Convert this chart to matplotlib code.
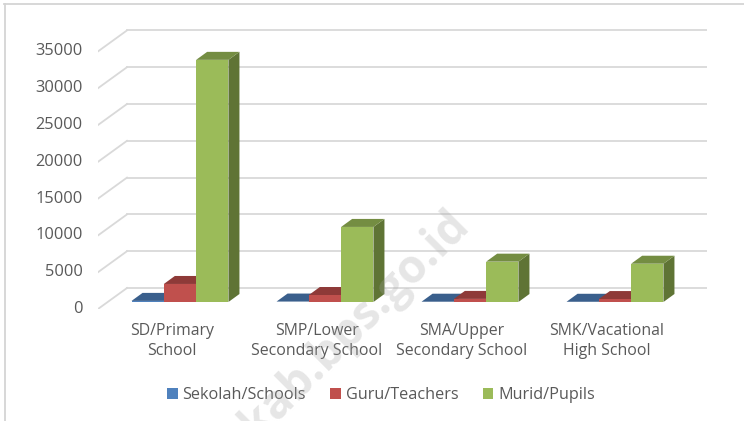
import matplotlib
matplotlib.use("Agg")
import matplotlib.pyplot as plt
from matplotlib.patches import Polygon

categories = ["SD/Primary\nSchool", "SMP/Lower\nSecondary School",
              "SMA/Upper\nSecondary School", "SMK/Vacational\nHigh School"]
sekolah = [150, 60, 40, 30]
guru = [2450, 950, 420, 400]
murid = [32900, 10200, 5480, 5200]
yticks = [0, 5000, 10000, 15000, 20000, 25000, 30000, 35000]

series = [("Sekolah/Schools", sekolah, "#4F81BD", "#3A5F8C", "#2F4D72"),
          ("Guru/Teachers", guru, "#C0504D", "#8E3A38", "#742F2D"),
          ("Murid/Pupils", murid, "#9BBB59", "#748D42", "#5F7435")]

W, H = 744, 421
PX_PER_CAT = 145.0
PX_PER_VAL = 36.8 / 5000

plt.rcParams["font.family"] = ["Open Sans", "DejaVu Sans"]
fig = plt.figure(figsize=(W / 100, H / 100), dpi=100)
left, right, floor, top = 98, 707, 309, 20
ax = fig.add_axes([left / W, 1 - floor / H, (right - left) / W, (floor - top) / H])
ax.set_xlim(-(172 - left) / PX_PER_CAT, (right - 172) / PX_PER_CAT)
ax.set_ylim(0, (floor - top) / PX_PER_VAL)
for s in ax.spines.values():
    s.set_visible(False)

# depth of the fake 3d box, in data units
wall_dx = 29 / PX_PER_CAT
wall_dy = 21 / PX_PER_VAL
bar_dx = 11 / PX_PER_CAT
bar_dy = 8 / PX_PER_VAL
bar_base = 7 / PX_PER_VAL
bar_w = 32.3 / PX_PER_CAT
bar_shift = 8 / PX_PER_CAT

x0, x1 = ax.get_xlim()
for t in yticks:
    ax.plot([x0, x0 + wall_dx], [t, t + wall_dy], color="#D9D9D9", lw=1.3, zorder=1)
    ax.plot([x0 + wall_dx, x1], [t + wall_dy, t + wall_dy], color="#D9D9D9", lw=1.3, zorder=1)

for j, (name, vals, front, roof, side) in enumerate(series):
    for i, v in enumerate(vals):
        xl = i + bar_shift + (j - 1.5) * bar_w
        xr = xl + bar_w
        ytop = bar_base + v
        ax.add_patch(Polygon([(xr, bar_base), (xr + bar_dx, bar_base + bar_dy),
                              (xr + bar_dx, ytop + bar_dy), (xr, ytop)],
                             fc=side, ec="none", zorder=3 + j))
        ax.add_patch(Polygon([(xl, ytop), (xl + bar_dx, ytop + bar_dy),
                              (xr + bar_dx, ytop + bar_dy), (xr, ytop)],
                             fc=roof, ec="none", zorder=3 + j))
    xs = [i + bar_shift + (j - 1) * bar_w for i in range(len(vals))]
    ax.bar(xs, vals, width=bar_w, bottom=bar_base, color=front, label=name, zorder=3 + j)

ax.set_xticks(range(len(categories)))
ax.set_xticklabels(categories, fontsize=11.4, color="#595959", linespacing=1.36)
ax.set_yticks(yticks)
ax.set_yticklabels([str(t) for t in yticks], fontsize=11.8, color="#595959")
ax.tick_params(length=0)
ax.tick_params(axis="x", pad=10)
ax.tick_params(axis="y", pad=11)
for lab in ax.get_yticklabels():
    lab.set_verticalalignment("center")

ax.legend(loc="center", bbox_to_anchor=(381 / W, 1 - 395 / H), bbox_transform=fig.transFigure,
          ncol=3, frameon=False, fontsize=11.7, labelcolor="#595959",
          handlelength=0.65, handleheight=0.65, handletextpad=0.3, columnspacing=1.5)

# watermark
fig.text(364 / W, 1 - 333 / H, "kab.bps.go.id", rotation=45, rotation_mode="anchor",
         ha="center", va="baseline", fontsize=33, fontweight="bold",
         color="#A6A6A6", alpha=0.28, zorder=5)

# scan border
fig.add_artist(plt.Line2D([4.5 / W, 4.5 / W], [0, 1 - 4 / H], color="#D4D4D4", lw=1.3))
fig.add_artist(plt.Line2D([4 / W, 1], [1 - 4 / H, 1 - 4 / H], color="#D4D4D4", lw=1.3))

fig.savefig("out.png", dpi=100)
